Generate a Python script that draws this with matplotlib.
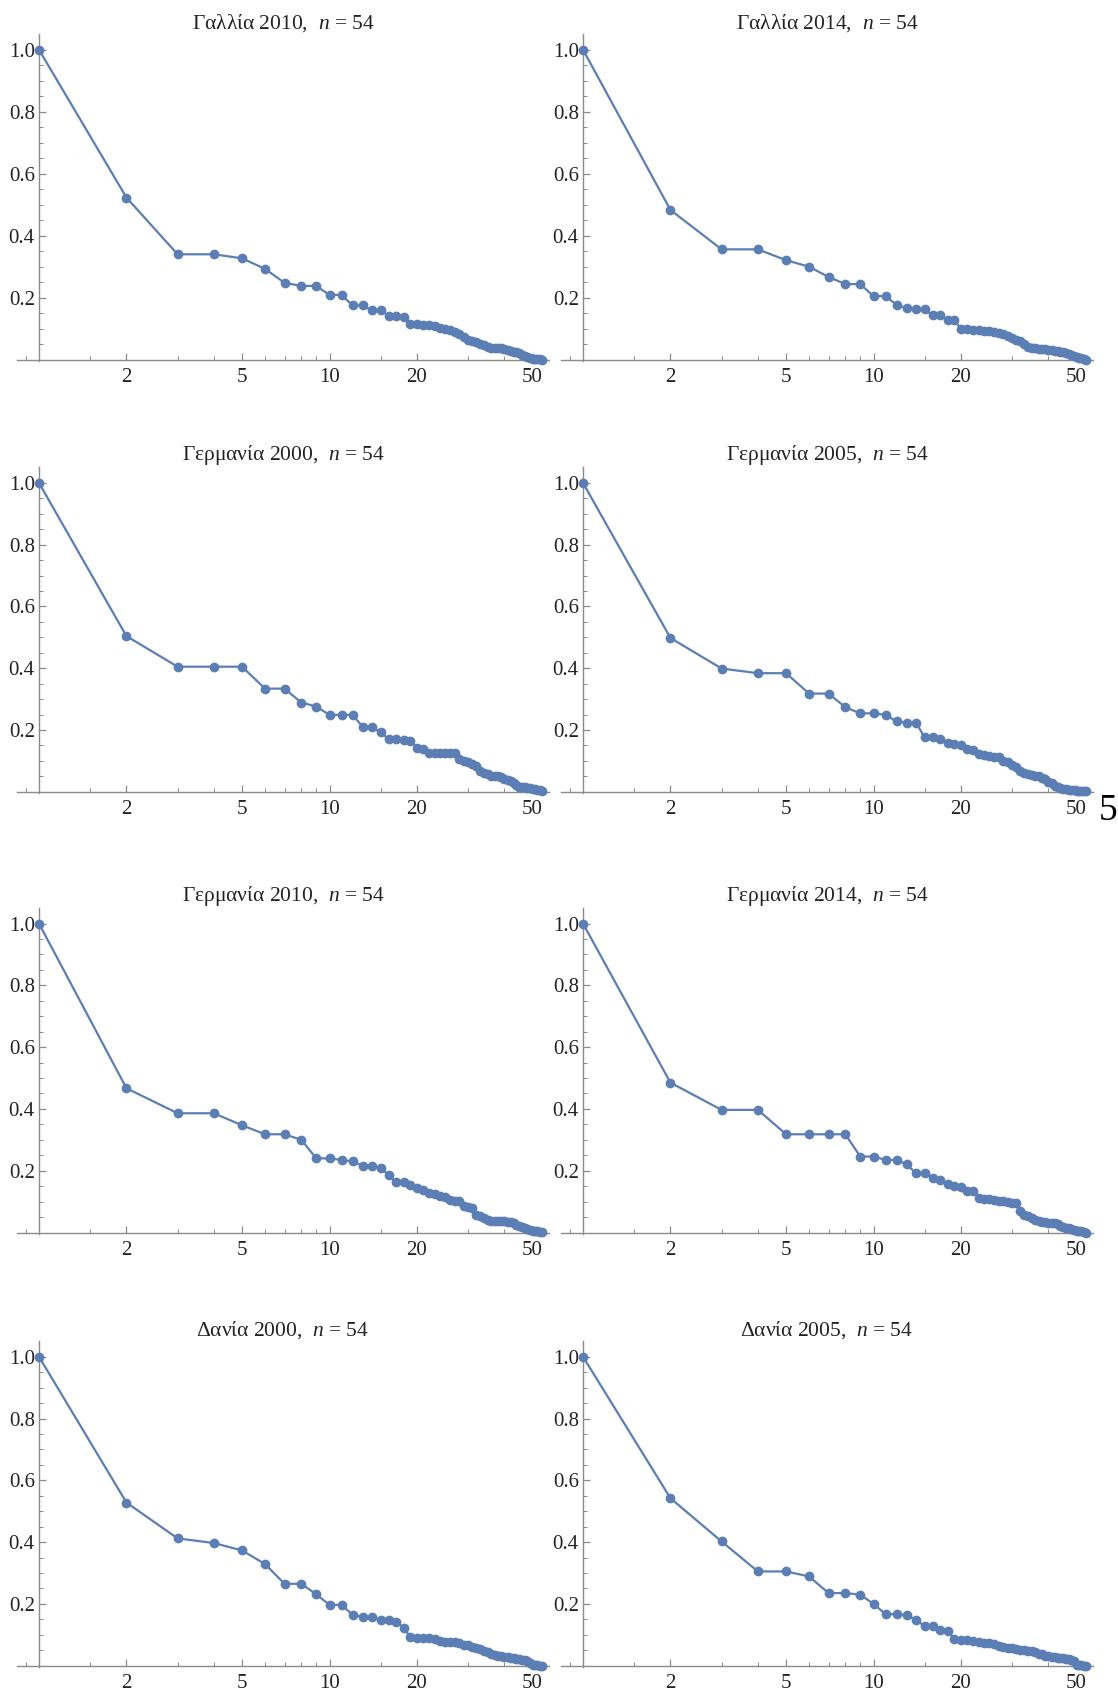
import numpy as np
import matplotlib
matplotlib.use("Agg")
import matplotlib.pyplot as plt
from matplotlib.ticker import FixedLocator, NullFormatter, FixedFormatter

plt.rcParams['font.family'] = ['Liberation Serif', 'DejaVu Serif']
plt.rcParams['mathtext.fontset'] = 'custom'
plt.rcParams['mathtext.rm'] = 'Liberation Serif'
plt.rcParams['mathtext.it'] = 'Liberation Serif:italic'

ranks = list(range(1, 55))

fr2010 = [1.0, 0.523, 0.340, 0.340, 0.327, 0.293, 0.248, 0.238, 0.238, 0.209,
          0.209, 0.175, 0.175, 0.159, 0.159, 0.142, 0.142, 0.138, 0.116, 0.116,
          0.113, 0.111, 0.108, 0.102, 0.100, 0.095, 0.089, 0.084, 0.073, 0.065,
          0.060, 0.057, 0.052, 0.046, 0.041, 0.039, 0.039, 0.038, 0.037, 0.034,
          0.030, 0.027, 0.025, 0.024, 0.022, 0.016, 0.011, 0.009, 0.004, 0.003,
          0.003, 0.002, 0.001, 0.0]
fr2014 = [1.0, 0.483, 0.356, 0.356, 0.321, 0.300, 0.267, 0.244, 0.244, 0.205,
          0.205, 0.177, 0.166, 0.162, 0.162, 0.143, 0.143, 0.127, 0.127, 0.100,
          0.100, 0.097, 0.095, 0.093, 0.091, 0.089, 0.086, 0.082, 0.075, 0.071,
          0.065, 0.060, 0.052, 0.041, 0.039, 0.037, 0.036, 0.034, 0.034, 0.032,
          0.030, 0.028, 0.027, 0.026, 0.025, 0.022, 0.017, 0.014, 0.011, 0.009,
          0.006, 0.004, 0.002, 0.0]
de2000 = [1.0, 0.504, 0.405, 0.405, 0.405, 0.334, 0.334, 0.289, 0.276, 0.249,
          0.249, 0.249, 0.211, 0.211, 0.192, 0.170, 0.170, 0.168, 0.166, 0.143,
          0.138, 0.127, 0.125, 0.125, 0.125, 0.125, 0.125, 0.106, 0.100, 0.097,
          0.089, 0.082, 0.068, 0.062, 0.057, 0.052, 0.050, 0.050, 0.047, 0.043,
          0.039, 0.034, 0.030, 0.022, 0.017, 0.015, 0.014, 0.013, 0.011, 0.009,
          0.009, 0.006, 0.005, 0.002]
de2005 = [1.0, 0.498, 0.399, 0.384, 0.384, 0.318, 0.318, 0.274, 0.254, 0.254,
          0.249, 0.228, 0.224, 0.224, 0.176, 0.176, 0.170, 0.159, 0.154, 0.151,
          0.140, 0.136, 0.122, 0.119, 0.116, 0.114, 0.112, 0.100, 0.095, 0.086,
          0.079, 0.068, 0.062, 0.057, 0.055, 0.052, 0.050, 0.046, 0.041, 0.032,
          0.028, 0.019, 0.014, 0.011, 0.009, 0.008, 0.006, 0.006, 0.005, 0.004,
          0.004, 0.003, 0.002, 0.001]
de2010 = [1.0, 0.467, 0.386, 0.386, 0.347, 0.318, 0.318, 0.300, 0.240, 0.240,
          0.235, 0.230, 0.216, 0.216, 0.208, 0.186, 0.162, 0.162, 0.154, 0.143,
          0.136, 0.127, 0.125, 0.119, 0.114, 0.106, 0.103, 0.103, 0.086, 0.082,
          0.079, 0.057, 0.052, 0.046, 0.039, 0.036, 0.036, 0.036, 0.036, 0.036,
          0.034, 0.034, 0.030, 0.025, 0.022, 0.017, 0.014, 0.011, 0.009, 0.006,
          0.005, 0.004, 0.003, 0.001]
de2014 = [1.0, 0.485, 0.397, 0.397, 0.318, 0.318, 0.318, 0.318, 0.246, 0.246,
          0.235, 0.235, 0.221, 0.192, 0.192, 0.176, 0.170, 0.156, 0.149, 0.147,
          0.133, 0.133, 0.113, 0.110, 0.108, 0.106, 0.103, 0.101, 0.099, 0.097,
          0.095, 0.071, 0.057, 0.052, 0.047, 0.041, 0.036, 0.033, 0.033, 0.032,
          0.032, 0.031, 0.028, 0.022, 0.019, 0.015, 0.013, 0.011, 0.009, 0.006,
          0.005, 0.004, 0.002, 0.0]
dk2000 = [1.0, 0.528, 0.412, 0.397, 0.373, 0.329, 0.265, 0.265, 0.231, 0.197,
          0.197, 0.165, 0.159, 0.159, 0.147, 0.147, 0.143, 0.122, 0.092, 0.089,
          0.089, 0.089, 0.086, 0.079, 0.077, 0.077, 0.077, 0.075, 0.068, 0.066,
          0.062, 0.057, 0.054, 0.046, 0.043, 0.039, 0.036, 0.032, 0.030, 0.028,
          0.027, 0.025, 0.024, 0.023, 0.022, 0.019, 0.017, 0.014, 0.009, 0.003,
          0.001, 0.001, 0.0, 0.0]
dk2005 = [1.0, 0.542, 0.402, 0.305, 0.305, 0.289, 0.235, 0.235, 0.230, 0.200,
          0.167, 0.167, 0.163, 0.149, 0.127, 0.127, 0.116, 0.111, 0.086, 0.084,
          0.082, 0.079, 0.077, 0.075, 0.075, 0.070, 0.065, 0.060, 0.058, 0.056,
          0.054, 0.052, 0.050, 0.047, 0.047, 0.045, 0.039, 0.037, 0.032, 0.030,
          0.028, 0.027, 0.026, 0.025, 0.024, 0.023, 0.022, 0.019, 0.014, 0.003,
          0.002, 0.001, 0.0, 0.0]

titles = ["Γαλλία 2010,  $n$ = 54", "Γαλλία 2014,  $n$ = 54",
          "Γερμανία 2000,  $n$ = 54", "Γερμανία 2005,  $n$ = 54",
          "Γερμανία 2010,  $n$ = 54", "Γερμανία 2014,  $n$ = 54",
          "Δανία 2000,  $n$ = 54", "Δανία 2005,  $n$ = 54"]
series = [fr2010, fr2014, de2000, de2005, de2010, de2014, dk2000, dk2005]

xmajor = [2, 5, 10, 20, 50]
xmajor_labels = ["2", "5", "10", "20", "50"]
xminor = [0.9, 1.5, 3, 4, 6, 7, 8, 9, 15, 30, 40]
ymajor = [0.2, 0.4, 0.6, 0.8, 1.0]
ymajor_labels = ["0.2", "0.4", "0.6", "0.8", "1.0"]
yminor = [0.05, 0.1, 0.15, 0.25, 0.3, 0.35, 0.45, 0.5, 0.55, 0.65, 0.7, 0.75,
          0.85, 0.9, 0.95]

W, H = 1118, 1693
fig = plt.figure(figsize=(W / 100, H / 100), dpi=100)

XMIN, XMAX = 0.84, 57
YMIN, YMAX = -0.005, 1.05
row_y0 = [359.7, 791.8, 1232.5, 1665.7]   # pixel of y=0
row_y1 = [49.7, 482.9, 923.6, 1356.7]     # pixel of y=1
col_x1 = [39, 583]                         # pixel of x=1
per_dec = 290.5

line_color = '#5B7FB4'
axis_color = '#8a8a8a'
text_color = '#222222'

for i, (vals, title) in enumerate(zip(series, titles)):
    r, c = divmod(i, 2)
    unit = row_y0[r] - row_y1[r]
    top_px = row_y1[r] - (YMAX - 1.0) * unit
    bot_px = row_y0[r] - YMIN * unit
    left_px = col_x1[c] + per_dec * np.log10(XMIN)
    right_px = col_x1[c] + per_dec * np.log10(XMAX)
    ax = fig.add_axes([left_px / W, 1 - bot_px / H,
                       (right_px - left_px) / W, (bot_px - top_px) / H])
    ax.set_xscale('log')
    ax.set_xlim(XMIN, XMAX)
    ax.set_ylim(YMIN, YMAX)
    ax.plot(ranks, vals, color=line_color, lw=1.6, marker='o', ms=6,
            clip_on=False, zorder=3)
    for s in ['top', 'right']:
        ax.spines[s].set_visible(False)
    ax.spines['left'].set_position(('data', 1))
    ax.spines['bottom'].set_position(('data', 0))
    for s in ['left', 'bottom']:
        ax.spines[s].set_color(axis_color)
        ax.spines[s].set_linewidth(1.0)
    ax.xaxis.set_major_locator(FixedLocator(xmajor))
    ax.xaxis.set_major_formatter(FixedFormatter(xmajor_labels))
    ax.xaxis.set_minor_locator(FixedLocator(xminor))
    ax.xaxis.set_minor_formatter(NullFormatter())
    ax.yaxis.set_major_locator(FixedLocator(ymajor))
    ax.yaxis.set_major_formatter(FixedFormatter(ymajor_labels))
    ax.yaxis.set_minor_locator(FixedLocator(yminor))
    ax.tick_params(which='major', direction='in', length=5, width=0.9,
                   color=axis_color, labelsize=15, labelcolor=text_color)
    ax.tick_params(which='minor', direction='in', length=2.8, width=0.7,
                   color=axis_color)
    ax.tick_params(axis='x', which='major', pad=6)
    ax.tick_params(axis='y', which='major', pad=3)
    ax.patch.set_alpha(0)
    ax.set_title(title, fontsize=15.5, color=text_color, pad=3)

fig.text(1108 / W, 1 - 811 / H, "5", fontsize=27, color='black',
         family='Liberation Serif', ha='center', va='center')

fig.savefig("out.png", dpi=100)
